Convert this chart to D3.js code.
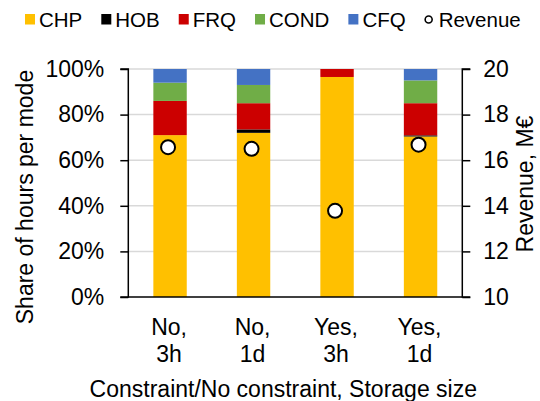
<!DOCTYPE html>
<html><head><meta charset="utf-8">
<script src="https://cdn.jsdelivr.net/npm/d3@7"></script>
<style>
body{margin:0;background:#fff;}
text{font-family:"Liberation Sans",Arial,sans-serif;fill:#000;}
</style></head>
<body><svg id="c" width="540" height="401"></svg>
<script>
const categories = [["No,","3h"],["No,","1d"],["Yes,","3h"],["Yes,","1d"]];
const seriesNames = ["CHP","HOB","FRQ","COND","CFQ"];
const seriesColors = ["#FFC000","#000000","#CC0000","#70AD47","#4472C4"];
const CHP  = [71.0, 72.0, 96.5, 70.4];
const HOB  = [0.0, 1.5, 0.0, 0.5];
const FRQ  = [15.0, 11.5, 3.5, 14.1];
const COND = [8.0, 8.0, 0.0, 10.0];
const CFQ  = [6.0, 7.0, 0.0, 5.0];
const revenue = [16.57, 16.50, 13.78, 16.68];
const leftTicks = [0,20,40,60,80,100];
const rightTicks = [10,12,14,16,18,20];

const svg = d3.select("#c");
const L = 128.3, R = 462.3, T = 69, B = 297;
const keys = categories.map((c,i)=>i);
const x = d3.scaleBand().domain(keys).range([L,R]).paddingInner(0.6).paddingOuter(0.3);
const y = d3.scaleLinear().domain([0,100]).range([B,T]);
const y2 = d3.scaleLinear().domain([10,20]).range([B,T]);

// gridlines
svg.append("g").selectAll("line").data(leftTicks.filter(d=>d>0)).join("line")
  .attr("x1",L).attr("x2",R).attr("y1",d=>y(d)).attr("y2",d=>y(d))
  .attr("stroke","#D9D9D9").attr("stroke-width",1.5);

// stacked bars
const table = keys.map(i=>({i, CHP:CHP[i], HOB:HOB[i], FRQ:FRQ[i], COND:COND[i], CFQ:CFQ[i]}));
const stack = d3.stack().keys(seriesNames)(table);
svg.append("g").selectAll("g").data(stack).join("g")
  .attr("fill",(d,k)=>seriesColors[k])
  .selectAll("rect").data(d=>d).join("rect")
  .attr("x",d=>x(d.data.i)).attr("width",x.bandwidth())
  .attr("y",d=>y(d[1])).attr("height",d=>Math.max(0,y(d[0])-y(d[1])));

// axes
const axL = svg.append("g").attr("transform",`translate(${L},0)`)
  .call(d3.axisLeft(y).tickValues(leftTicks).tickSize(8).tickFormat(d=>d+"%").tickPadding(16));
const axR = svg.append("g").attr("transform",`translate(${R},0)`)
  .call(d3.axisRight(y2).tickValues(rightTicks).tickSize(8).tickPadding(13));
[axL,axR].forEach(a=>{
  a.select(".domain").attr("stroke","#000").attr("stroke-width",1.5);
  a.selectAll(".tick line").attr("stroke","#000").attr("stroke-width",1.5);
  a.selectAll(".tick text").style("font-size","23px").attr("fill","#000");
});
axL.select(".domain").attr("d",`M-8,${T}H0V${B}H-8`);
axR.select(".domain").attr("d",`M8,${T}H0V${B}H8`);
svg.append("line").attr("x1",L).attr("x2",R).attr("y1",B).attr("y2",B)
  .attr("stroke","#000").attr("stroke-width",1.5);

// category labels
const cl = svg.append("g").selectAll("text").data(keys).join("text")
  .attr("text-anchor","middle").style("font-size","23px")
  .attr("x",i=>x(i)+x.bandwidth()/2 - 1);
cl.selectAll("tspan").data(i=>categories[i]).join("tspan")
  .attr("x",function(){return d3.select(this.parentNode).attr("x");})
  .attr("y",(d,j)=>335+j*26.5).text(d=>d);

// revenue points
svg.append("g").selectAll("circle").data(keys).join("circle")
  .attr("cx",i=>x(i)+x.bandwidth()/2-2).attr("cy",i=>y2(revenue[i]))
  .attr("r",7).attr("fill","#fff").attr("stroke","#000").attr("stroke-width",2);

// axis titles
svg.append("text").attr("text-anchor","middle").style("font-size","23px")
  .attr("x",(L+R)/2-12).attr("y",397).text("Constraint/No constraint, Storage size");
svg.append("text").attr("text-anchor","middle").style("font-size","23px")
  .attr("transform","translate(33,197) rotate(-90)").text("Share of hours per mode");
svg.append("text").attr("text-anchor","middle").style("font-size","23px")
  .attr("transform","translate(533,184) rotate(-90)").text("Revenue, M€");

// legend
const leg = svg.append("g");
let lx = 25;
const legendItems = seriesNames.concat(["Revenue"]);
legendItems.forEach((name,k)=>{
  if(k<seriesNames.length){
    leg.append("rect").attr("x",lx).attr("y",14).attr("width",10).attr("height",10.5).attr("fill",seriesColors[k]);
  } else {
    leg.append("circle").attr("cx",lx+4).attr("cy",19.5).attr("r",3.5).attr("fill","#fff").attr("stroke","#000").attr("stroke-width",1.6);
  }
  const t = leg.append("text").attr("x",lx+14).attr("y",27).style("font-size","20.5px").text(name);
  lx = lx + 14 + t.node().getComputedTextLength() + 19;
});
</script></body></html>
